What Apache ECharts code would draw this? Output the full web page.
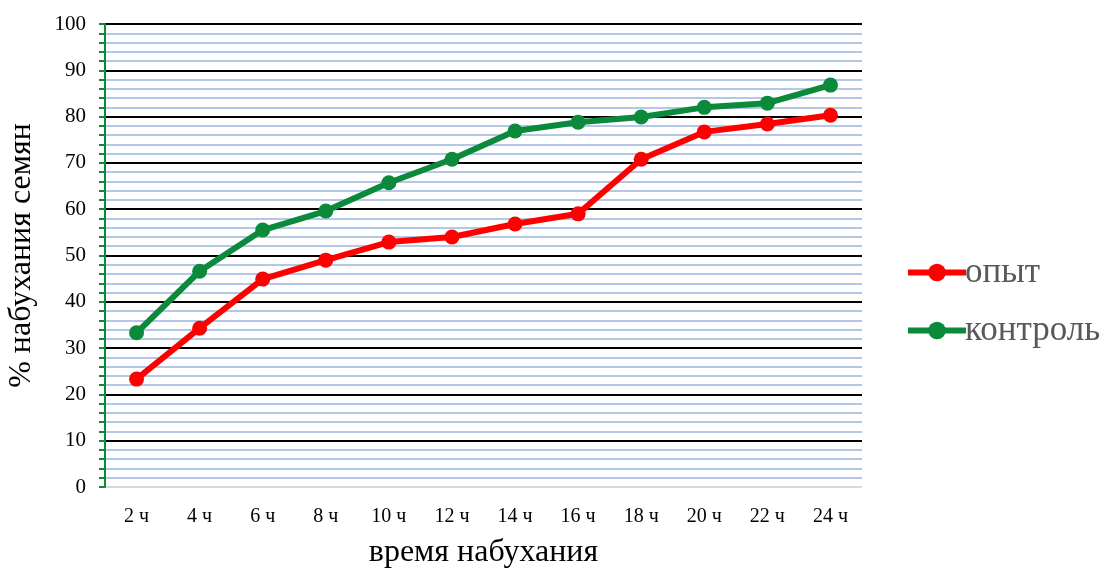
<!DOCTYPE html>
<html><head><meta charset="utf-8">
<script src="https://cdn.jsdelivr.net/npm/echarts@6/dist/echarts.min.js"></script>
<style>html,body{margin:0;padding:0;background:#fff}#c{width:1106px;height:569px}</style>
</head><body><div id="c"></div>
<script>
const categories = ['2 ч','4 ч','6 ч','8 ч','10 ч','12 ч','14 ч','16 ч','18 ч','20 ч','22 ч','24 ч'];
const opyt = [23.3, 34.3, 44.9, 49.0, 52.9, 54.0, 56.8, 59.0, 70.8, 76.7, 78.4, 80.3];
const kontrol = [33.3, 46.6, 55.5, 59.6, 65.7, 70.8, 76.9, 78.8, 79.9, 82.0, 82.9, 86.8];
const font = 'Liberation Serif';
const chart = echarts.init(document.getElementById('c'));
const splitColors = ['#d9d9d9','#000','#000','#000','#000','#000','#000','#000','#000','#000','#000'];
chart.setOption({
  animation: false,
  grid: {left: 105, right: 244, top: 24, bottom: 82, containLabel: false, outerBoundsMode: 'none'},
  legend: {
    orient: 'vertical', left: 900, top: 250, itemGap: 23,
    itemWidth: 58, itemHeight: 22,
    lineStyle: {width: 6},
    textStyle: {fontFamily: font, fontSize: 35, lineHeight: 32, color: '#595959', padding: [0,0,0,-6]},
    data: ['опыт','контроль']
  },
  xAxis: {
    type: 'category', data: categories,
    name: 'время набухания', nameLocation: 'middle', nameGap: 50,
    nameTextStyle: {fontFamily: font, fontSize: 32, color: '#000'},
    axisLine: {show: false},
    axisTick: {show: false},
    axisLabel: {fontFamily: font, fontSize: 20, color: '#000', margin: 20}
  },
  yAxis: {
    type: 'value', min: 0, max: 100, interval: 10,
    name: '% набухания семян', nameLocation: 'middle', nameGap: 67,
    nameTextStyle: {fontFamily: font, fontSize: 32, color: '#000'},
    axisLine: {show: true, lineStyle: {color: '#0a8a3a', width: 2}},
    axisTick: {show: true, length: 6, lineStyle: {color: '#0a8a3a', width: 2}},
    minorTick: {show: true, splitNumber: 5, length: 6, lineStyle: {color: '#0a8a3a', width: 2}},
    axisLabel: {fontFamily: font, fontSize: 21, color: '#000', margin: 19},
    splitLine: {show: true, lineStyle: {color: splitColors, width: 2}},
    minorSplitLine: {show: true, lineStyle: {color: '#b4c7e7', width: 2}}
  },
  series: [
    {name: 'опыт', type: 'line', data: opyt, symbol: 'circle', symbolSize: 15,
     lineStyle: {color: '#ff0000', width: 6}, itemStyle: {color: '#ff0000'}},
    {name: 'контроль', type: 'line', data: kontrol, symbol: 'circle', symbolSize: 15,
     lineStyle: {color: '#0a8a3a', width: 6}, itemStyle: {color: '#0a8a3a'}}
  ]
});
</script></body></html>
